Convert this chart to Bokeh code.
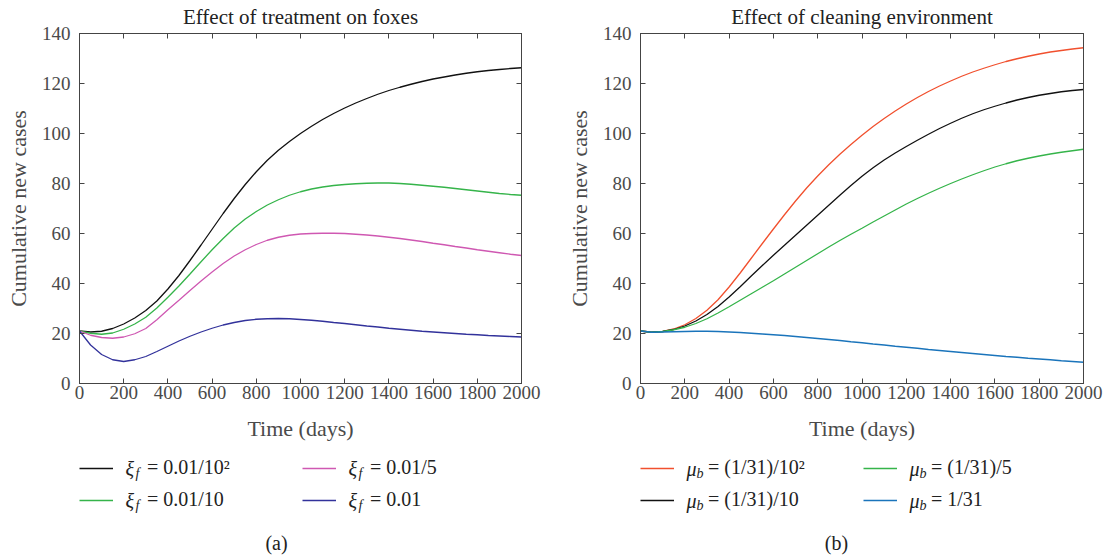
from bokeh.plotting import figure
from bokeh.models import Range1d, FixedTicker, LinearAxis, Legend, LegendItem, Label
from bokeh.layouts import row, column
from bokeh.embed import file_html
from bokeh.resources import INLINE

# ---------------- data ----------------
T = [0, 50, 100, 150, 200, 250, 300, 350, 400, 450, 500, 550, 600, 650, 700, 750,
     800, 850, 900, 950, 1000, 1050, 1100, 1150, 1200, 1250, 1300, 1350, 1400, 1450,
     1500, 1550, 1600, 1650, 1700, 1750, 1800, 1850, 1900, 1950, 2000]

# (a) Effect of treatment on foxes
xi_f_1e2 = [21.0, 20.6, 20.9, 22.0, 23.8, 26.2, 29.2, 33.0, 37.8, 43.2, 49.2, 55.4, 61.7,
            68.0, 74.0, 79.6, 84.7, 89.3, 93.3, 96.8, 100.0, 102.9, 105.6, 108.0, 110.2,
            112.2, 114.0, 115.7, 117.2, 118.5, 119.7, 120.8, 121.8, 122.6, 123.4, 124.1,
            124.7, 125.2, 125.6, 126.0, 126.3]
xi_f_10 = [21.0, 20.1, 19.7, 20.2, 21.7, 23.8, 26.5, 30.2, 34.5, 39.0, 43.8, 48.7, 53.5,
           58.0, 62.2, 65.8, 68.8, 71.4, 73.5, 75.3, 76.7, 77.8, 78.6, 79.2, 79.6, 79.9,
           80.1, 80.2, 80.2, 80.0, 79.7, 79.3, 78.9, 78.5, 78.0, 77.5, 77.0, 76.5, 76.0,
           75.6, 75.3]
xi_f_5 = [21.0, 19.3, 18.4, 18.1, 18.6, 19.9, 22.0, 25.5, 29.5, 33.3, 37.2, 41.0, 44.6,
          48.0, 51.0, 53.5, 55.6, 57.3, 58.5, 59.3, 59.8, 60.0, 60.1, 60.1, 60.0, 59.7,
          59.4, 59.0, 58.5, 58.0, 57.4, 56.8, 56.1, 55.5, 54.8, 54.2, 53.5, 52.9, 52.3,
          51.7, 51.2]
xi_f_1 = [21.0, 15.4, 11.6, 9.5, 8.8, 9.5, 10.8, 12.8, 14.9, 17.0, 18.9, 20.6, 22.1,
          23.4, 24.4, 25.2, 25.7, 25.9, 26.0, 25.9, 25.6, 25.3, 24.9, 24.4, 24.0, 23.5,
          23.0, 22.6, 22.1, 21.7, 21.3, 20.9, 20.6, 20.3, 20.0, 19.7, 19.5, 19.2, 19.0,
          18.8, 18.6]

# (b) Effect of cleaning environment
mu_b_1e2 = [21.0, 20.5, 20.8, 21.8, 23.5, 26.0, 29.3, 33.5, 38.6, 44.2, 50.1, 56.0, 61.8,
            67.5, 73.0, 78.2, 83.0, 87.5, 91.7, 95.6, 99.3, 102.8, 106.0, 109.0, 111.8,
            114.4, 116.8, 119.0, 121.0, 122.9, 124.6, 126.1, 127.5, 128.8, 129.9, 130.9,
            131.8, 132.6, 133.2, 133.8, 134.3]
mu_b_10 = [21.0, 20.5, 20.8, 21.6, 23.0, 25.0, 27.6, 30.8, 34.6, 38.7, 43.0, 47.2, 51.3,
           55.3, 59.3, 63.3, 67.3, 71.3, 75.3, 79.2, 82.9, 86.3, 89.4, 92.2, 94.8, 97.3,
           99.7, 102.0, 104.1, 106.1, 107.9, 109.5, 110.9, 112.2, 113.4, 114.4, 115.3,
           116.0, 116.7, 117.2, 117.6]
mu_b_5 = [21.0, 20.5, 20.8, 21.5, 22.5, 24.0, 25.9, 28.2, 30.7, 33.3, 35.9, 38.5, 41.1,
          43.8, 46.5, 49.2, 51.9, 54.6, 57.2, 59.7, 62.1, 64.6, 67.0, 69.4, 71.8, 74.0,
          76.1, 78.1, 80.0, 81.8, 83.5, 85.1, 86.6, 87.9, 89.1, 90.1, 91.0, 91.8, 92.5,
          93.1, 93.7]
mu_b_1 = [21.0, 20.5, 20.6, 20.7, 20.8, 20.9, 20.9, 20.8, 20.6, 20.4, 20.1, 19.8, 19.5,
          19.2, 18.8, 18.4, 18.0, 17.6, 17.2, 16.7, 16.3, 15.8, 15.4, 14.9, 14.5, 14.1,
          13.6, 13.2, 12.8, 12.4, 12.0, 11.6, 11.2, 10.8, 10.5, 10.1, 9.8, 9.5, 9.1,
          8.8, 8.5]

x_ticks = [0, 200, 400, 600, 800, 1000, 1200, 1400, 1600, 1800, 2000]
y_ticks = [0, 20, 40, 60, 80, 100, 120, 140]

series_a = [
    ("ξ", "f", "= 0.01/10²", xi_f_1e2, "#111111"),
    ("ξ", "f", "= 0.01/10", xi_f_10, "#35b44a"),
    ("ξ", "f", "= 0.01/5", xi_f_5, "#cf58b2"),
    ("ξ", "f", "= 0.01", xi_f_1, "#32329b"),
]
series_b = [
    ("μ", "b", "= (1/31)/10²", mu_b_1e2, "#f1502e"),
    ("μ", "b", "= (1/31)/10", mu_b_10, "#111111"),
    ("μ", "b", "= (1/31)/5", mu_b_5, "#35b44a"),
    ("μ", "b", "= 1/31", mu_b_1, "#1a74bb"),
]

FONT = "Liberation Serif"
AX = "#444444"
TXT = "#4a4a4a"
DARK = "#222222"

LEFT_B = 79
TOP_B = 33
BOT_B = 62
FRAME_H = 350
LEG_H = 559 - TOP_B - FRAME_H - BOT_B


def make_panel(title, series, frame_w, border_right):
    p = figure(frame_width=frame_w, frame_height=FRAME_H,
               x_range=Range1d(0, 2000), y_range=Range1d(0, 140),
               output_backend="svg", toolbar_location=None,
               min_border_left=LEFT_B, min_border_right=border_right,
               min_border_top=TOP_B, min_border_bottom=BOT_B,
               title=title)
    p.title.text_font = FONT
    p.title.text_font_size = "21px"
    p.title.text_font_style = "normal"
    p.title.text_color = DARK
    p.title.align = "center"
    p.title.vertical_align = "top"
    p.title.standoff = 6
    p.title.offset = 0
    p.grid.visible = False
    p.outline_line_color = AX
    p.background_fill_color = "white"
    p.border_fill_color = "white"

    xa = p.below[0]
    ya = p.left[0]
    xa.axis_label = "Time (days)"
    ya.axis_label = "Cumulative new cases"
    xa.ticker = FixedTicker(ticks=x_ticks)
    ya.ticker = FixedTicker(ticks=y_ticks)
    xa.major_label_standoff = 2
    xa.axis_label_standoff = 14
    ya.major_label_standoff = 9
    ya.axis_label_standoff = 8

    top = LinearAxis(ticker=FixedTicker(ticks=x_ticks), major_label_text_font_size="0px",
                     major_label_text_color=None, major_label_standoff=0)
    right = LinearAxis(ticker=FixedTicker(ticks=y_ticks), major_label_text_font_size="0px",
                       major_label_text_color=None, major_label_standoff=0)
    p.add_layout(top, "above")
    p.add_layout(right, "right")

    for ax in (xa, ya, top, right):
        ax.axis_line_color = AX
        ax.major_tick_line_color = AX
        ax.major_tick_in = 5
        ax.major_tick_out = 0
        ax.minor_tick_line_color = None
    for ax in (xa, ya):
        ax.major_label_text_font = FONT
        ax.major_label_text_font_size = "19px"
        ax.major_label_text_color = TXT
        ax.axis_label_text_font = FONT
        ax.axis_label_text_font_style = "normal"
        ax.axis_label_text_color = TXT
        ax.axis_label_text_font_size = "22px"

    for sym, sub, lab, vals, col in series:
        p.line(T, vals, line_color=col, line_width=1.3)
    return p


def make_legend_fig(series, frame_w, border_right, caption, cap_x):
    # frame of this figure lines up with the chart frame above it; units = pixels
    lf = figure(frame_width=frame_w, frame_height=LEG_H,
                x_range=Range1d(0, frame_w), y_range=Range1d(0, LEG_H),
                output_backend="svg", toolbar_location=None,
                x_axis_location=None, y_axis_location=None,
                min_border_left=LEFT_B, min_border_right=border_right,
                min_border_top=0, min_border_bottom=0)
    lf.grid.visible = False
    lf.outline_line_color = None
    lf.background_fill_color = "white"
    lf.border_fill_color = "white"
    row_y = [LEG_H - 23, LEG_H - 55]
    col_x = [0, 223]
    for c in range(2):
        for k in range(2):
            sym, sub, lab, vals, col = series[c * 2 + k]
            r = lf.line(x=[float("nan")], y=[float("nan")], line_color=col, line_width=1.3)
            leg = Legend(items=[LegendItem(label=lab, renderers=[r])],
                         location=(col_x[c], row_y[k] - 11), orientation="vertical",
                         glyph_width=34, glyph_height=22, label_height=22,
                         padding=0, margin=0, label_standoff=34,
                         border_line_alpha=0, background_fill_alpha=0,
                         label_text_font=FONT, label_text_font_size="20px",
                         label_text_color=DARK)
            lf.add_layout(leg)
            lf.add_layout(Label(x=col_x[c] + 46, y=row_y[k], text=sym, text_font=FONT,
                                text_font_size="20px", text_font_style="italic",
                                text_baseline="middle", text_color=DARK))
            lf.add_layout(Label(x=col_x[c] + 56, y=row_y[k] - 5, text=sub, text_font=FONT,
                                text_font_size="14px", text_font_style="italic",
                                text_baseline="middle", text_color=DARK))
    lf.add_layout(Label(x=cap_x, y=17, text=caption, text_font=FONT, text_font_size="20px",
                        text_align="center", text_baseline="middle", text_color=DARK))
    return lf


p1 = make_panel("Effect of treatment on foxes", series_a, 442, 40)
p2 = make_panel("Effect of cleaning environment", series_b, 443, 27)
l1 = make_legend_fig(series_a, 442, 40, "(a)", 197)
l2 = make_legend_fig(series_b, 443, 27, "(b)", 196)

layout = row(column(p1, l1), column(p2, l2))
open("out.html", "w").write(file_html(layout, INLINE))
